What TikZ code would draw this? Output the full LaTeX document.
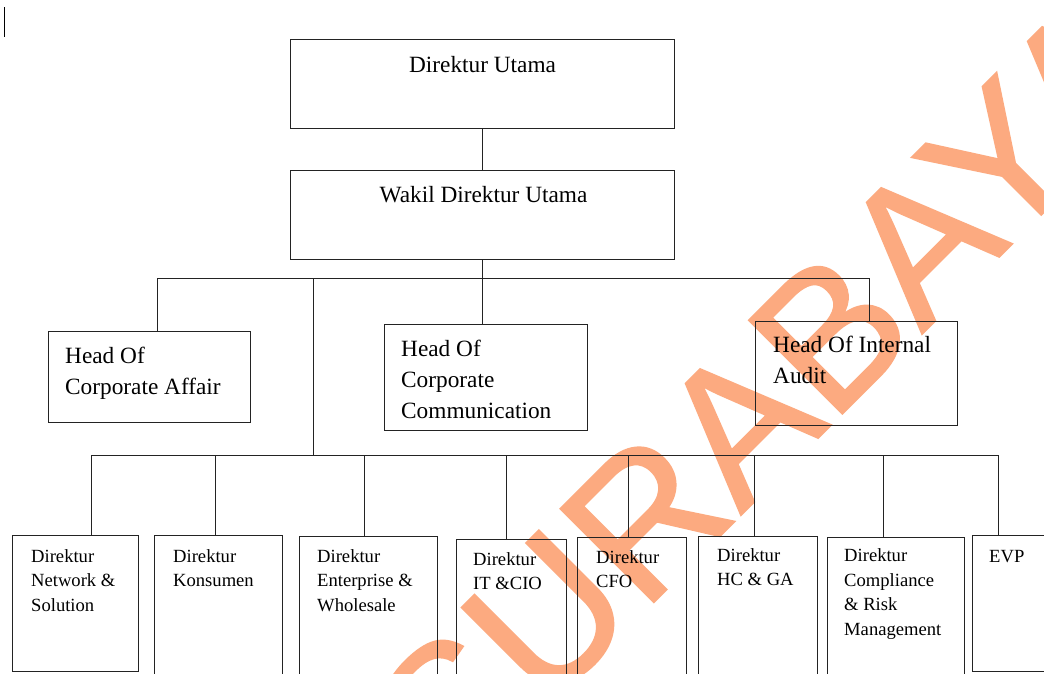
\documentclass[tikz,border=0pt]{standalone}
\usepackage{fontspec}
\setmainfont{Liberation Serif}
\newfontfamily\wmfont[FakeBold=1]{Liberation Sans}
\usetikzlibrary{calc}
\definecolor{wmcol}{RGB}{252,170,128}
\definecolor{linecol}{RGB}{35,35,35}
\newcommand{\mltext}[1]{\begin{tabular}[t]{@{}l@{}}#1\end{tabular}}
\begin{document}
\begin{tikzpicture}[x=1pt,y=-1pt,
  box/.style={draw=linecol, line width=1.1pt, inner sep=0pt, anchor=north west, rectangle},
  conn/.style={draw=linecol, line width=1pt},
  bigtxt/.style={inner sep=0pt, font=\fontsize{23.3}{31}\selectfont, text=black},
  smalltxt/.style={inner sep=0pt, font=\fontsize{18.6}{24.5}\selectfont, text=black, anchor=base west},
]
\useasboundingbox (0,0) rectangle (1044,673);
\clip (0,0) rectangle (1044,673);
\fill[white] (0,0) rectangle (1044,673);
% watermark
\node[rotate=45, anchor=base west, inner sep=0pt, text=wmcol, font=\fontsize{192}{192}\selectfont\wmfont] (wm) at (454,802) {SURABAYA};
% cursor mark
\draw[line width=1.5pt, black] (4.5,7) -- (4.5,37);
% boxes
\node[box, minimum width=384pt, minimum height=89pt] (du) at (290,39) {};
\node[box, minimum width=384pt, minimum height=89pt] (wdu) at (290,170) {};
\node[box, minimum width=202pt, minimum height=91pt] (hca) at (48,331) {};
\node[box, minimum width=203pt, minimum height=106pt] (hcc) at (384,324) {};
\node[box, minimum width=202pt, minimum height=104pt] (hia) at (755,321) {};
\node[box, minimum width=126pt, minimum height=136pt] (d1) at (12,535) {};
\node[box, minimum width=128pt, minimum height=160pt] (d2) at (154,535) {};
\node[box, minimum width=138pt, minimum height=160pt] (d3) at (299,536) {};
\node[box, minimum width=110pt, minimum height=160pt] (d4) at (456,539) {};
\node[box, minimum width=109pt, minimum height=160pt] (d5) at (577,537) {};
\node[box, minimum width=119pt, minimum height=160pt] (d6) at (698,536) {};
\node[box, minimum width=137pt, minimum height=160pt] (d7) at (827,537) {};
\node[box, minimum width=100pt, minimum height=136pt] (d8) at (972,535) {};
% texts
\node[bigtxt, anchor=base] (duT) at ($(du.north)+(0,33)$) {Direktur Utama};
\node[bigtxt, anchor=base] (wduT) at ($(wdu.north)+(1,32)$) {Wakil Direktur Utama};
\node[bigtxt, anchor=base west] (hcaT) at ($(hca.north west)+(17,32)$) {\mltext{Head Of\\Corporate Affair}};
\node[bigtxt, anchor=base west] (hccT) at ($(hcc.north west)+(17,32)$) {\mltext{Head Of\\Corporate\\Communication}};
\node[bigtxt, anchor=base west] (hiaT) at ($(hia.north west)+(18,31)$) {\mltext{Head Of Internal\\Audit}};
\node[smalltxt] (d1T) at ($(d1.north west)+(19,27)$) {\mltext{Direktur\\Network \&\\Solution}};
\node[smalltxt] (d2T) at ($(d2.north west)+(19,27)$) {\mltext{Direktur\\Konsumen}};
\node[smalltxt] (d3T) at ($(d3.north west)+(18,26)$) {\mltext{Direktur\\Enterprise \&\\Wholesale}};
\node[smalltxt] (d4T) at ($(d4.north west)+(17,26)$) {\mltext{Direktur\\IT \&CIO}};
\node[smalltxt] (d5T) at ($(d5.north west)+(19,26)$) {\mltext{Direktur\\CFO}};
\node[smalltxt] (d6T) at ($(d6.north west)+(19,25)$) {\mltext{Direktur\\HC \& GA}};
\node[smalltxt] (d7T) at ($(d7.north west)+(17,24.5)$) {\mltext{Direktur\\Compliance\\\& Risk\\Management}};
\node[smalltxt] (d8T) at ($(d8.north west)+(17,27)$) {EVP};
% bus coordinates
\coordinate (ubL) at (157,278);
\coordinate (ubM) at (313,278);
\coordinate (ubR) at (869,278);
\coordinate (lbM) at (313,455);
\coordinate (t1) at (91,455);
\coordinate (t2) at (215,455);
\coordinate (t3) at (364,455);
\coordinate (t4) at (506,455);
\coordinate (t5) at (628,455);
\coordinate (t6) at (754,455);
\coordinate (t7) at (883,455);
\coordinate (t8) at (998,455);
% connectors
\draw[conn] (du.south) -- (wdu.north);
\draw[conn] (wdu.south) -- (wdu.south |- hcc.north);
\draw[conn] (hca.north -| ubL) -- (ubL) -- (ubR) -- (hia.north -| ubR);
\draw[conn] (ubM) -- (lbM);
\draw[conn] (t1) -- (t8);
\draw[conn] (t1) -- (t1 |- d1.north);
\draw[conn] (t2) -- (t2 |- d2.north);
\draw[conn] (t3) -- (t3 |- d3.north);
\draw[conn] (t4) -- (t4 |- d4.north);
\draw[conn] (t5) -- (t5 |- d5.north);
\draw[conn] (t6) -- (t6 |- d6.north);
\draw[conn] (t7) -- (t7 |- d7.north);
\draw[conn] (t8) -- (t8 |- d8.north);
\end{tikzpicture}
\end{document}
